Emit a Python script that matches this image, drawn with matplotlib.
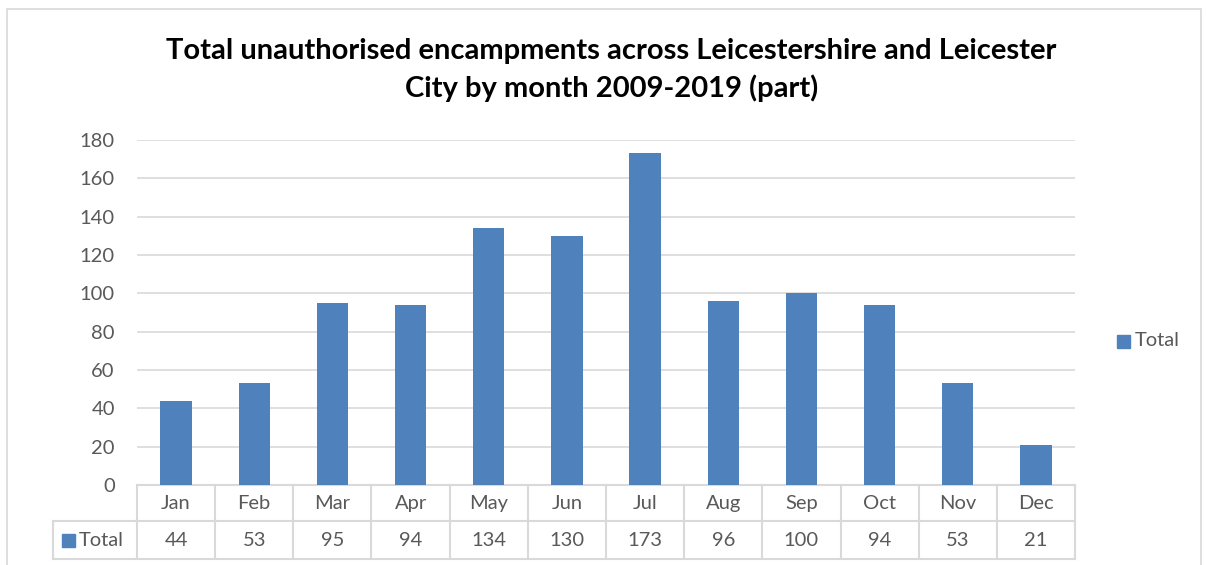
import matplotlib
matplotlib.use("Agg")
import matplotlib.pyplot as plt
from matplotlib.patches import Rectangle
import matplotlib.transforms as mtransforms

# Data
months = ["Jan", "Feb", "Mar", "Apr", "May", "Jun",
          "Jul", "Aug", "Sep", "Oct", "Nov", "Dec"]
totals = [44, 53, 95, 94, 134, 130, 173, 96, 100, 94, 53, 21]
series_name = "Total"
title = ("Total unauthorised encampments across Leicestershire and Leicester\n"
         "City by month 2009-2019 (part)")

BAR_COLOR = "#4F81BD"
TEXT_COLOR = "#595959"
GRID_COLOR = "#D9D9D9"
TABLE_COLOR = "#D9D9D9"
FS = 14.5

plt.rcParams['font.family'] = ['Lato', 'DejaVu Sans']

fig = plt.figure(figsize=(12.06, 5.65), dpi=100)
ax = fig.add_axes([137 / 1206, 80 / 565, 938 / 1206, 345 / 565])

x = list(range(len(months)))
ax.bar(x, totals, width=0.4, color=BAR_COLOR, zorder=3)

ax.set_xlim(-0.5, len(months) - 0.5)
ax.set_ylim(0, 180)
ax.set_yticks(range(0, 181, 20))
ax.yaxis.grid(True, color=GRID_COLOR, linewidth=1.2, zorder=0)
ax.set_xticks([])
ax.tick_params(axis='y', length=0, labelsize=FS, labelcolor=TEXT_COLOR, pad=16)
for side in ["top", "right", "left"]:
    ax.spines[side].set_visible(False)
ax.spines["bottom"].set_color(TABLE_COLOR)
ax.spines["bottom"].set_linewidth(1.5)

# data table below the axis
trans = mtransforms.blended_transform_factory(ax.transData, ax.transAxes)
row1 = -0.105
row2 = -0.215
for i in range(len(months) + 1):
    ax.plot([i - 0.5, i - 0.5], [0, row2], transform=trans, color=TABLE_COLOR,
            lw=1.5, clip_on=False)
ax.plot([-0.5, len(months) - 0.5], [row1, row1], transform=trans,
        color=TABLE_COLOR, lw=1.5, clip_on=False)
ax.plot([-1.58, len(months) - 0.5], [row2, row2], transform=trans,
        color=TABLE_COLOR, lw=1.5, clip_on=False)
ax.plot([-1.58, -0.5], [row1, row1], transform=trans,
        color=TABLE_COLOR, lw=1.5, clip_on=False)
ax.plot([-1.58, -1.58], [row1, row2], transform=trans,
        color=TABLE_COLOR, lw=1.5, clip_on=False)
for i, (m, v) in enumerate(zip(months, totals)):
    ax.text(i, (0 + row1) / 2, m, transform=trans, ha='center', va='center',
            fontsize=FS, color=TEXT_COLOR)
    ax.text(i, (row1 + row2) / 2, str(v), transform=trans, ha='center',
            va='center', fontsize=FS, color=TEXT_COLOR)
ax.add_patch(Rectangle((-1.46, (row1 + row2) / 2 - 0.019), 0.17, 0.038,
                       transform=trans, color=BAR_COLOR, clip_on=False))
ax.text(-1.25, (row1 + row2) / 2, series_name, transform=trans, ha='left',
        va='center', fontsize=FS, color=TEXT_COLOR)

# legend at right
fig.patches.append(Rectangle((1117 / 1206, (565 - 348) / 565), 13 / 1206, 13 / 565,
                             transform=fig.transFigure, color=BAR_COLOR))
fig.text(1135 / 1206, (565 - 341) / 565, series_name, ha='left', va='center',
         fontsize=FS, color=TEXT_COLOR)

fig.text(0.507, (565 - 70) / 565, title, ha='center', va='center',
         fontsize=21, fontweight='bold', color='black', linespacing=1.42)

# chart border
fig.patches.append(Rectangle((7 / 1206, -0.1), 1194 / 1206, (565 - 9) / 565 + 0.1,
                             transform=fig.transFigure, fill=False,
                             edgecolor=TABLE_COLOR, lw=1.2))

fig.savefig("out.png", dpi=100)
